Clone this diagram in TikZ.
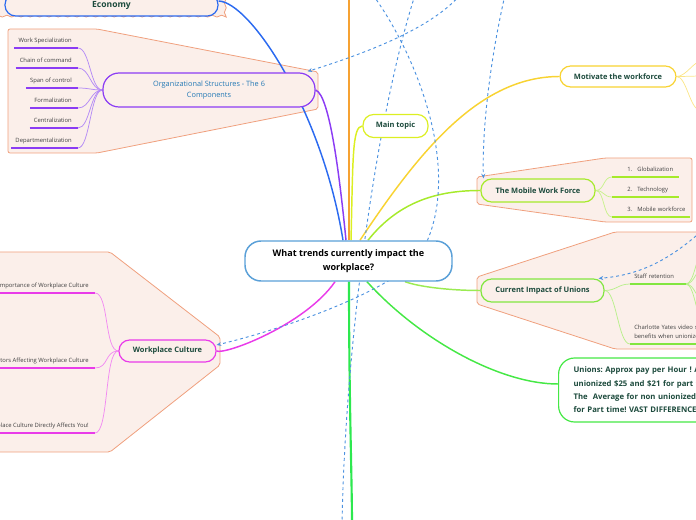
\documentclass[tikz,border=0pt]{standalone}
\usepackage{fontspec}
\setmainfont{Open Sans}
\usetikzlibrary{arrows.meta,calc,decorations.pathmorphing}
\definecolor{econblue}{HTML}{2B6AF0}
\definecolor{orgpurple}{HTML}{8B3CF4}
\definecolor{orgtwig}{HTML}{B48AF6}
\definecolor{orangeln}{HTML}{F6A233}
\definecolor{limeln}{HTML}{DCEF22}
\definecolor{goldln}{HTML}{F8D332}
\definecolor{goldtwig}{HTML}{FBE68A}
\definecolor{mobgreen}{HTML}{A6EA2B}
\definecolor{mobtwig}{HTML}{C8F28C}
\definecolor{curgreen}{HTML}{82E640}
\definecolor{curconn}{HTML}{9BEB52}
\definecolor{curtwig}{HTML}{B8F08A}
\definecolor{unigreen}{HTML}{45E845}
\definecolor{downgreen}{HTML}{2DE84F}
\definecolor{magentaln}{HTML}{E93BE9}
\definecolor{magtwig}{HTML}{F28AF2}
\definecolor{relblue}{HTML}{4C92E0}
\definecolor{bgpink}{HTML}{FBEFEA}
\definecolor{bgline}{HTML}{F0A07E}
\definecolor{tgreen}{HTML}{1C4A3C}
\definecolor{orgtext}{HTML}{2479B5}
\definecolor{leafgray}{HTML}{404040}
\definecolor{cblue}{HTML}{5AA0D8}
\frenchspacing
\pgfdeclarelayer{back}
\pgfsetlayers{back,main}
\tikzset{
  bgshape/.style={fill=bgpink, draw=bgline, line width=0.6pt, rounded corners=1.5pt},
  topicbase/.style={draw, rounded corners=8pt, line width=0.9pt, inner sep=0pt, text=tgreen,
    font=\bfseries\fontsize{5.6}{7}\selectfont, align=center},
  leaf/.style={inner xsep=0pt, inner ysep=3.1pt, text height=3.3pt, text depth=1pt, text=leafgray,
    font=\fontsize{4.4}{6.75}\selectfont},
  conn/.style={line width=1.1pt},
  twig/.style={line width=0.55pt},
  uline/.style={line width=1.5pt},
  rel/.style={draw=relblue, line width=0.7pt, dash pattern=on 2.2pt off 2.2pt},
  relarrow/.style={rel, -{Stealth[length=3.5pt,width=3pt]}}
}
\begin{document}
\begin{tikzpicture}[x=0.75pt,y=-0.75pt]
\useasboundingbox (0,0) rectangle (696,520);

% ---------- topic nodes
\node[topicbase, draw=cblue, fill=white, line width=1.1pt, rounded corners=12pt,
  minimum width=155.25pt, minimum height=30pt, text=black,
  font=\bfseries\fontsize{6.8}{10.5}\selectfont] (center) at (348.5,261)
  {What trends currently impact the\\workplace?};
\node[topicbase, draw=econblue, fill=bgpink, minimum width=159.75pt, minimum height=16.5pt,
  font=\bfseries\fontsize{6.4}{8}\selectfont] (econ) at (111.5,5) {Economy};
\node[topicbase, draw=orgpurple, fill=bgpink, minimum width=159pt, minimum height=25.5pt,
  rounded corners=12pt, text=orgtext, font=\fontsize{5.5}{8.25}\selectfont] (org) at (209,90)
  {Organizational Structures - The 6\\Components};
\node[topicbase, draw=limeln, fill=white, minimum width=48.75pt, minimum height=17.25pt] (main) at (395.5,126) {Main topic};
\node[topicbase, draw=goldln, fill=white, minimum width=87pt, minimum height=15.75pt] (mot) at (618,76.5) {Motivate the workforce};
\node[topicbase, draw=mobgreen, fill=bgpink, minimum width=85.5pt, minimum height=17.25pt] (mwf) at (538,190.5) {The Mobile Work Force};
\node[topicbase, draw=curgreen, fill=bgpink, minimum width=92.25pt, minimum height=17.25pt] (cur) at (542.5,290.5) {Current Impact of Unions};
\node[topicbase, draw=magentaln, fill=bgpink, minimum width=72.75pt, minimum height=16.5pt] (wc) at (167.5,351) {Workplace Culture};
\node[topicbase, draw=unigreen, fill=white, rounded corners=12pt, anchor=west, align=left,
  text width=180pt, inner xsep=11.25pt, minimum height=48pt,
  font=\bfseries\fontsize{5.8}{10}\selectfont] (uni) at (558,390)
  {Unions: Approx pay per Hour ! Avg for\\unionized \$25 and \$21 for part time.\\The\ \ Average for non unionized\\for Part time! VAST DIFFERENCES!};

% ---------- leaves
\node[leaf, anchor=south east] (oc1) at (78,48) {\hspace*{3pt}Work Specialization\hspace*{4.5pt}};
\node[leaf, anchor=south east] (oc2) at (78,68) {\hspace*{3pt}Chain of command\hspace*{4.5pt}};
\node[leaf, anchor=south east] (oc3) at (78,88) {\hspace*{3pt}Span of control\hspace*{4.5pt}};
\node[leaf, anchor=south east] (oc4) at (78,108) {\hspace*{3pt}Formalization\hspace*{4.5pt}};
\node[leaf, anchor=south east] (oc5) at (78,128) {\hspace*{3pt}Centralization\hspace*{4.5pt}};
\node[leaf, anchor=south east] (oc6) at (78,148) {\hspace*{3pt}Departmentalization\hspace*{4.5pt}};

\node[leaf, anchor=south west, text width=49.5pt, align=left] (mw1) at (612,177) {\hspace*{11.25pt}\makebox[7.5pt][l]{1.}Globalization};
\node[leaf, anchor=south west, text width=49.5pt, align=left] (mw2) at (612,197) {\hspace*{11.25pt}\makebox[7.5pt][l]{2.}Technology};
\node[leaf, anchor=south west, text width=57.75pt, align=left] (mw3) at (612,217) {\hspace*{11.25pt}\makebox[7.5pt][l]{3.}Mobile workforce};

\node[leaf, anchor=south west, text width=41.25pt, align=left] (st) at (630,284) {\hspace*{3pt}Staff retention};
\node[leaf, anchor=south west, text width=90pt, align=left, text height=3.3pt, text depth=7.75pt] (cy) at (630,344) {\hspace*{3pt}Charlotte Yates video shows\\\hspace*{3pt}benefits when unionized};

\node[leaf, anchor=south east] (w1) at (95,293) {Importance of Workplace Culture\hspace*{4.5pt}};
\node[leaf, anchor=south east] (w2) at (95,368) {Factors Affecting Workplace Culture\hspace*{4.5pt}};
\node[leaf, anchor=south east] (w3) at (95,433) {Workplace Culture Directly Affects You!\hspace*{4.5pt}};

% underlines
\foreach \n in {oc1,oc2,oc3,oc4,oc5,oc6} \draw[uline, orgpurple] (\n.south west) -- (\n.south east);
\foreach \n in {mw1,mw2,mw3} \draw[uline, mobgreen] (\n.south west) -- (\n.south east);
\foreach \n in {st,cy} \draw[uline, curgreen] (\n.south west) -- (\n.south east);
\foreach \n in {w1,w2,w3} \draw[uline, magentaln] (\n.south west) -- (\n.south east);

% free ends
\coordinate (orgtop) at (349,-5);
\coordinate (down) at (352,525);
\coordinate (r1s) at (460,-5);
\coordinate (r2s) at (373,-5);
\coordinate (r2m) at (420,255);
\coordinate (r3s) at (415,-5);
\coordinate (r3e) at (342,525);
\coordinate (r4s) at (505,-5);
\coordinate (r6s) at (705,228);
\coordinate (m1) at (704,60);
\coordinate (m2) at (704,76);
\coordinate (m3) at (700,110);
\coordinate (s1) at (705,252);
\coordinate (s2) at (705,268);
\coordinate (s3) at (705,300);
\coordinate (s4) at (705,320);

\begin{pgfonlayer}{back}
% backgrounds
\draw[bgshape, rounded corners=0pt, decorate, decoration={snake, amplitude=0.7pt, segment length=7pt}]
  (-10,-10) -- (223,-10) -- (223,19) -- (-10,19) -- cycle;
\draw[bgshape] (8,29) -- (97,29) -- (318,72) -- (318,109) -- (97,153) -- (8,153) -- cycle;
\draw[bgshape] (477,177) -- (605,158) -- (692,158) -- (692,222) -- (605,222) -- (477,204) -- cycle;
\draw[bgshape] (477,277) -- (615,232) -- (710,232) -- (710,349) -- (615,349) -- (477,304) -- cycle;
\draw[bgshape] (-10,252) -- (110,252) -- (220,337) -- (220,365) -- (110,452) -- (-10,452) -- cycle;

% main connectors
\draw[conn, econblue] ($(econ.east)+(0,-4)$) .. controls (250,2) and (322,110) .. ($(center.north)+(-5.5,0)$);
\draw[conn, orgpurple] (org.east) .. controls (330,95) and (340,180) .. ($(center.north)+(-2.5,0)$);
\draw[conn, orangeln, line width=1.3pt] (orgtop) -- ($(center.north)+(0.5,0)$);
\draw[conn, limeln] ($(center.north)+(2.5,0)$) .. controls (353,160) and (352,126) .. (main.west);
\draw[conn, goldln] ($(center.north)+(11.5,0)$) .. controls (420,150) and (480,76.5) .. (mot.west);
\draw[conn, mobgreen] ($(center.north)+(19.5,0)$) .. controls (400,200) and (440,190.5) .. (mwf.west);
\draw[conn, curconn] ($(center.south)+(56.5,0)$) .. controls (420,287) and (450,290.5) .. (cur.west);
\draw[conn, unigreen] ($(center.south)+(18.5,0)$) .. controls (420,340) and (500,384) .. ($(uni.west)+(0,-6)$);
\draw[conn, downgreen, line width=1.6pt] ($(center.south)+(0.5,0)$) .. controls (349,400) and (352,480) .. (down);
\draw[conn, magentaln] ($(center.south)+(-13.5,0)$) .. controls (305,325) and (225,355) .. (wc.east);

% twigs
\foreach \n in {oc1,oc2,oc3,oc4,oc5,oc6} \draw[twig, orgtwig] (org.west) .. controls +(-12,0) and +(12,0) .. (\n.south east);
\foreach \n in {mw1,mw2,mw3} \draw[twig, mobtwig] (mwf.east) .. controls +(9,0) and +(-9,0) .. (\n.south west);
\foreach \n in {st,cy} \draw[twig, curtwig] (cur.east) .. controls +(12,0) and +(-12,0) .. (\n.south west);
\foreach \n in {s1,s2,s3,s4} \draw[twig, curtwig] (st.south east) .. controls +(10,0) and +(-10,0) .. (\n);
\foreach \n in {m1,m2,m3} \draw[twig, goldtwig] (mot.east) .. controls +(10,0) and +(-10,0) .. (\n);
\foreach \n in {w1,w2,w3} \draw[twig, magtwig] (wc.west) .. controls +(-14,0) and +(14,0) .. (\n.south east);

% relationship lines
\draw[relarrow] (r1s) .. controls (430,30) and (360,55) .. ($(org.north east)+(-8,-1)$);
\draw[relarrow] (r2s) .. controls (420,60) and (465,180) .. (r2m) .. controls (400,285) and (300,325) .. ($(wc.east)+(0,-6)$);
\draw[rel] (r3s) .. controls (375,120) and (345,350) .. (r3e);
\draw[relarrow] (r4s) .. controls (490,60) and (482,130) .. ($(mwf.north west)+(3,0)$);
\draw[relarrow] (r6s) .. controls (670,260) and (640,275) .. ($(cur.north east)+(-6,0)$);
\end{pgfonlayer}
\end{tikzpicture}
\end{document}
